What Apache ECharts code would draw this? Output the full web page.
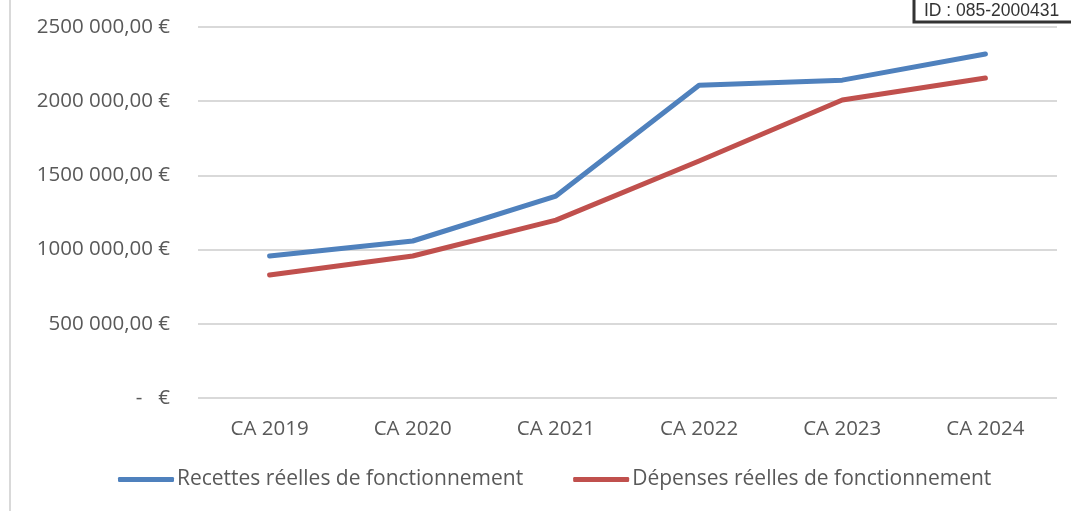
<!DOCTYPE html>
<html>
<head>
<meta charset="utf-8">
<script src="https://cdn.jsdelivr.net/npm/echarts@6/dist/echarts.min.js"></script>
<style>
  html, body { margin: 0; padding: 0; background: #fff; }
  #chart { width: 1071px; height: 511px; }
</style>
</head>
<body>
<div id="chart"></div>
<script>
var categories = ['CA 2019', 'CA 2020', 'CA 2021', 'CA 2022', 'CA 2023', 'CA 2024'];
var recettes = [957000, 1058000, 1361000, 2108000, 2142000, 2318000];
var depenses = [829000, 957000, 1199000, 1597000, 2008000, 2156000];
var seriesNames = ['Recettes réelles de fonctionnement', 'Dépenses réelles de fonctionnement'];

var font = '"Open Sans", Lato, sans-serif';
var grey = '#595959';

function euro(v) {
  if (v === 0) return '-   €';
  var k = Math.floor(v / 1000);
  var r = String(v % 1000).padStart(3, '0');
  return k + ' ' + r + ',00 €';
}

var myChart = echarts.init(document.getElementById('chart'));
var option = {
  animation: false,
  grid: {
    left: 198,
    right: 14,
    top: 27,
    bottom: 113
  },
  legend: {
    bottom: 16,
    left: 113,
    itemWidth: 56,
    itemHeight: 5,
    itemGap: 50,
    icon: 'roundRect',
    textStyle: { color: grey, fontSize: 21, fontFamily: font, padding: [0, 0, 0, -2] },
    data: seriesNames
  },
  xAxis: {
    type: 'category',
    data: categories,
    boundaryGap: true,
    axisLine: { show: false },
    axisTick: { show: false },
    axisLabel: { color: grey, fontSize: 20.5, fontFamily: font, margin: 21 }
  },
  yAxis: {
    type: 'value',
    min: 0,
    max: 2500000,
    interval: 500000,
    axisLine: { show: false },
    axisTick: { show: false },
    splitLine: { lineStyle: { color: '#d9d9d9', width: 2 } },
    axisLabel: { color: grey, fontSize: 20.5, fontFamily: font, margin: 28, formatter: euro }
  },
  series: [{
    name: seriesNames[0],
    type: 'line',
    data: recettes,
    symbol: 'none',
    lineStyle: { color: '#4f81bd', width: 5, cap: 'round', join: 'round' },
    itemStyle: { color: '#4f81bd' }
  }, {
    name: seriesNames[1],
    type: 'line',
    data: depenses,
    symbol: 'none',
    lineStyle: { color: '#c0504d', width: 5, cap: 'round', join: 'round' },
    itemStyle: { color: '#c0504d' }
  }],
  graphic: [{
    type: 'rect',
    shape: { x: 9, y: 0, width: 2, height: 511 },
    style: { fill: '#d9d9d9' }
  }, {
    type: 'rect',
    shape: { x: 914, y: -3, width: 160, height: 25 },
    style: { fill: '#fff', stroke: '#333', lineWidth: 3 }
  }, {
    type: 'text',
    x: 924,
    y: 2,
    style: { text: 'ID : 085-2000431', fill: '#333', fontSize: 17.5, fontFamily: 'Liberation Sans, Arial, sans-serif' }
  }]
};
option && myChart.setOption(option);
window.addEventListener('resize', myChart.resize);
</script>
</body>
</html>
